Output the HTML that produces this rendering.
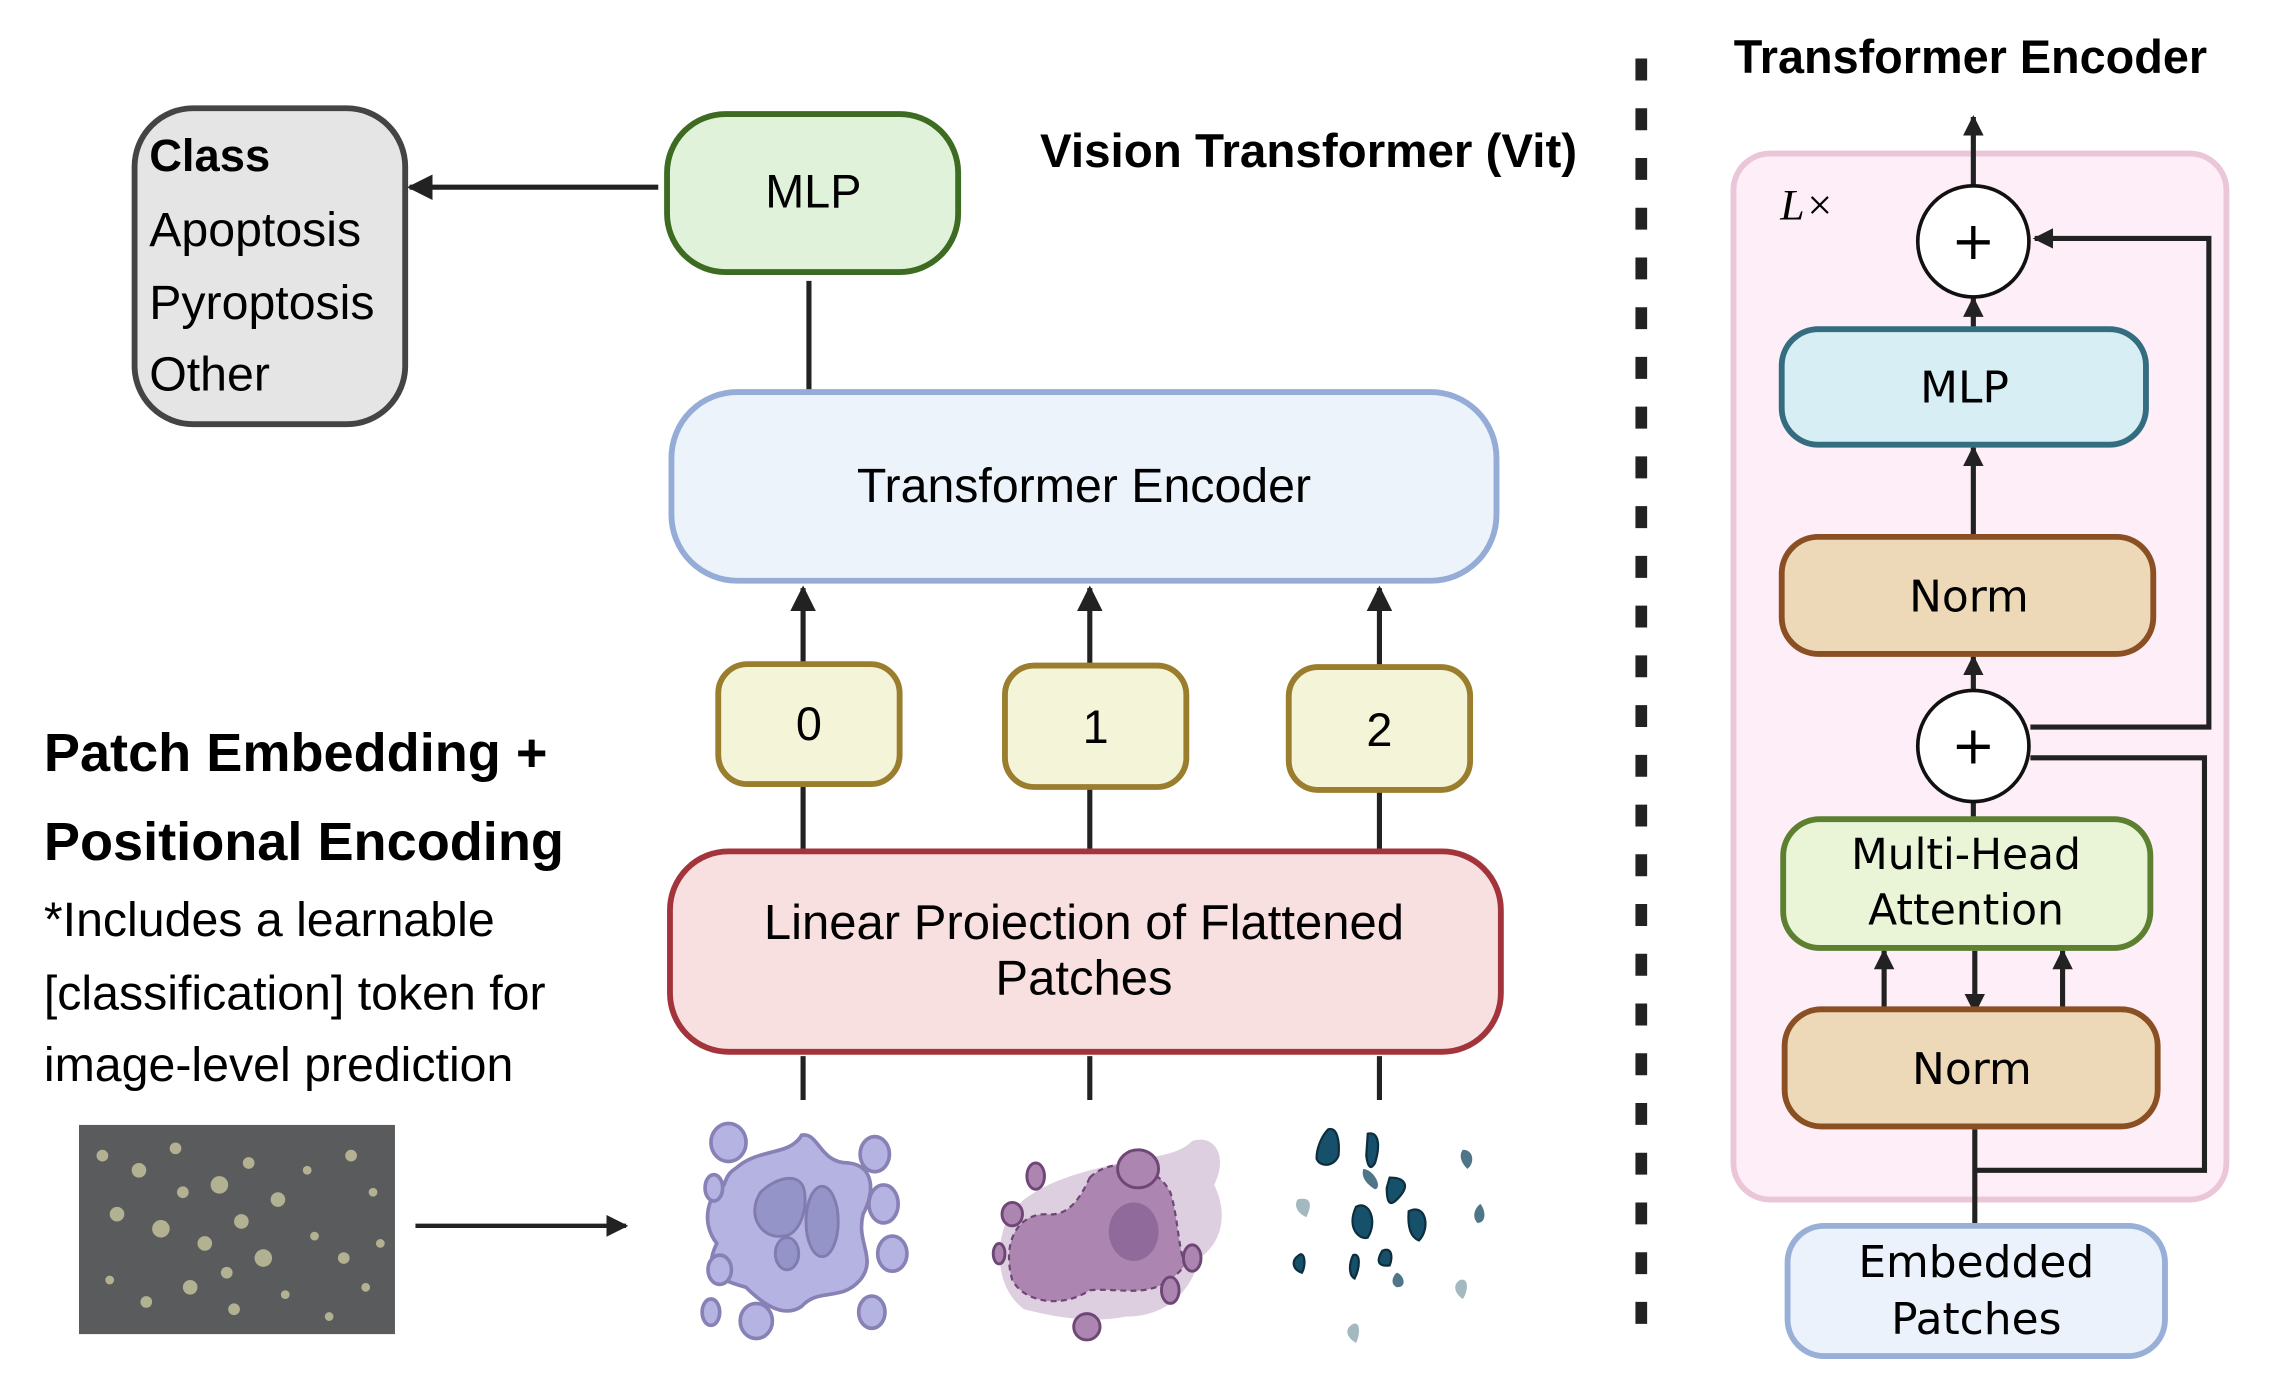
<!DOCTYPE html>
<html><head><meta charset="utf-8"><style>
html,body{margin:0;padding:0;background:#fff;}
svg{display:block;}
.s{font-family:"Liberation Sans",sans-serif;}
.d{font-family:"DejaVu Sans","Liberation Sans",sans-serif;}
</style></head><body>
<svg width="2282" height="1378" viewBox="0 0 1560 942" preserveAspectRatio="none" xmlns="http://www.w3.org/2000/svg">
<defs>
<marker id="ah" viewBox="0 0 10 10" refX="9" refY="5" markerWidth="5" markerHeight="5" orient="auto"><path d="M0,0 L10,5 L0,10 z" fill="#222"/></marker>
<marker id="ah2" viewBox="0 0 10 10" refX="9" refY="5" markerWidth="4" markerHeight="4" orient="auto"><path d="M0,0 L10,5 L0,10 z" fill="#222"/></marker>
</defs>
<rect width="1560" height="942" fill="#fff"/>

<!-- Class box -->
<rect x="92" y="74" width="185" height="216" rx="40" fill="#e5e5e5" stroke="#444" stroke-width="4"/>
<text class="s" x="102" y="117" font-size="31" font-weight="bold" fill="#000">Class</text>
<text class="s" x="102" y="168" font-size="33" fill="#000">Apoptosis</text>
<text class="s" x="102" y="218" font-size="33" fill="#000">Pyroptosis</text>
<text class="s" x="102" y="267" font-size="33" fill="#000">Other</text>
<line x1="450" y1="128" x2="280" y2="128" stroke="#222" stroke-width="3.5" marker-end="url(#ah)"/>

<!-- MLP -->
<rect x="456" y="78" width="199" height="108" rx="40" fill="#e0f3da" stroke="#3e6b22" stroke-width="4"/>
<text class="s" x="556" y="142" font-size="32" text-anchor="middle">MLP</text>
<line x1="553" y1="192" x2="553" y2="268" stroke="#222" stroke-width="3.5"/>
<text class="s" x="711" y="114" font-size="32.5" font-weight="bold">Vision Transformer (Vit)</text>

<!-- TE -->
<rect x="459" y="268" width="564" height="129" rx="45" fill="#ecf3fb" stroke="#95acd6" stroke-width="4"/>
<text class="s" x="741" y="343" font-size="33" text-anchor="middle">Transformer Encoder</text>

<g stroke="#222" stroke-width="3.5">
<line x1="549" y1="453" x2="549" y2="402" marker-end="url(#ah)"/>
<line x1="745" y1="454" x2="745" y2="402" marker-end="url(#ah)"/>
<line x1="943" y1="456" x2="943" y2="402" marker-end="url(#ah)"/>
<line x1="549" y1="536" x2="549" y2="582"/>
<line x1="745" y1="538" x2="745" y2="582"/>
<line x1="943" y1="540" x2="943" y2="582"/>
<line x1="549" y1="722" x2="549" y2="752"/>
<line x1="745" y1="722" x2="745" y2="752"/>
<line x1="943" y1="722" x2="943" y2="752"/>
</g>
<g fill="#f4f4d8" stroke="#9a7e2e" stroke-width="4">
<rect x="491" y="454" width="124" height="82" rx="20"/>
<rect x="687" y="455" width="124" height="83" rx="20"/>
<rect x="881" y="456" width="124" height="84" rx="20"/>
</g>
<text class="s" x="553" y="506" font-size="32" text-anchor="middle">0</text>
<text class="s" x="749" y="508" font-size="32" text-anchor="middle">1</text>
<text class="s" x="943" y="510" font-size="32" text-anchor="middle">2</text>

<rect x="458" y="582" width="568" height="137" rx="40" fill="#f8dfe0" stroke="#a3343c" stroke-width="4"/>
<text class="s" x="741" y="642" font-size="33.5" text-anchor="middle">Linear Proiection of Flattened</text>
<text class="s" x="741" y="680" font-size="33.5" text-anchor="middle">Patches</text>

<!-- left text -->
<text class="s" x="30" y="527" font-size="37" font-weight="bold">Patch Embedding +</text>
<text class="s" x="30" y="588" font-size="37" font-weight="bold">Positional Encoding</text>
<text class="s" x="30" y="640" font-size="33">*Includes a learnable</text>
<text class="s" x="30" y="690" font-size="33">[classification] token for</text>
<text class="s" x="30" y="739" font-size="33">image-level prediction</text>

<!-- microscopy -->
<rect x="54" y="769" width="216" height="143" fill="#5a5b5c"/>
<g fill="#c9c7a0" opacity="0.8">
<circle cx="70" cy="790" r="4"/><circle cx="95" cy="800" r="5"/><circle cx="120" cy="785" r="4"/><circle cx="150" cy="810" r="6"/><circle cx="170" cy="795" r="4"/><circle cx="190" cy="820" r="5"/><circle cx="210" cy="800" r="3"/><circle cx="240" cy="790" r="4"/><circle cx="255" cy="815" r="3"/><circle cx="80" cy="830" r="5"/><circle cx="110" cy="840" r="6"/><circle cx="140" cy="850" r="5"/><circle cx="165" cy="835" r="5"/><circle cx="180" cy="860" r="6"/><circle cx="215" cy="845" r="3"/><circle cx="235" cy="860" r="4"/><circle cx="250" cy="880" r="3"/><circle cx="75" cy="875" r="3"/><circle cx="100" cy="890" r="4"/><circle cx="130" cy="880" r="5"/><circle cx="160" cy="895" r="4"/><circle cx="195" cy="885" r="3"/><circle cx="225" cy="900" r="3"/><circle cx="260" cy="850" r="3"/><circle cx="125" cy="815" r="4"/><circle cx="155" cy="870" r="4"/>
</g>
<line x1="284" y1="838" x2="428" y2="838" stroke="#222" stroke-width="3" marker-end="url(#ah)"/>

<!-- purple cell -->
<g stroke="#8781b5" stroke-width="2.5" fill="#b4b3e2">
<path d="M505,797 C520,785 540,790 548,776 C560,774 560,795 580,795 C598,797 598,815 590,830 C585,850 600,860 588,875 C575,890 560,880 548,893 C535,902 520,890 510,880 C492,875 480,870 490,850 C478,835 485,815 495,810 C498,800 502,800 505,797 Z"/>
<ellipse cx="498" cy="781" rx="12" ry="13"/><ellipse cx="598" cy="789" rx="10" ry="12"/><ellipse cx="488" cy="812" rx="6" ry="9"/><ellipse cx="604" cy="823" rx="10" ry="13"/><ellipse cx="610" cy="857" rx="10" ry="12"/><ellipse cx="492" cy="868" rx="8" ry="10"/><ellipse cx="486" cy="897" rx="6" ry="9"/><ellipse cx="517" cy="903" rx="11" ry="12"/><ellipse cx="596" cy="897" rx="9" ry="11"/>
</g>
<g fill="#9594c8" stroke="#807cb0" stroke-width="2">
<path d="M520,815 C530,805 548,800 550,815 C552,830 545,845 535,845 C520,847 510,830 520,815 Z"/>
<ellipse cx="562" cy="835" rx="11" ry="24"/><ellipse cx="538" cy="857" rx="8" ry="11"/>
</g>

<!-- mauve cell -->
<path d="M700,820 C720,805 745,800 765,795 C790,790 805,790 815,780 C830,775 840,790 830,810 C840,830 835,850 820,860 C815,880 800,900 770,900 C745,905 720,900 700,895 C680,880 680,850 690,830 Z" fill="#ddcfe0"/>
<path d="M745,805 C760,790 790,795 800,815 C805,830 805,850 810,865 C790,890 770,880 745,882 C725,895 700,890 692,875 C685,850 695,830 715,830 C730,832 738,820 745,805 Z" fill="#ac86b0" stroke="#6e4777" stroke-width="1.5" stroke-dasharray="4 3"/>
<ellipse cx="775" cy="842" rx="17" ry="20" fill="#8f6a9b"/>
<ellipse cx="778" cy="799" rx="14" ry="13" fill="#ac86b0" stroke="#6e4777" stroke-width="2"/>
<g fill="#ac86b0" stroke="#6e4777" stroke-width="2">
<ellipse cx="708" cy="804" rx="6" ry="9"/><ellipse cx="692" cy="830" rx="7" ry="8"/><ellipse cx="683" cy="857" rx="4" ry="7"/><ellipse cx="815" cy="860" rx="6" ry="9"/><ellipse cx="800" cy="882" rx="6" ry="9"/><ellipse cx="743" cy="907" rx="9" ry="9"/>
</g>

<!-- teal fragments -->
<g fill="#16506b" stroke="#0c2e3d" stroke-width="1.5">
<path d="M908,772 C914,770 916,780 915,790 C912,798 902,798 900,792 C900,784 904,776 908,772 Z"/>
<path d="M935,775 C942,773 944,782 940,795 C937,800 935,798 934,790 Z"/>
<path d="M927,825 C936,820 942,835 935,846 C930,848 920,840 927,825 Z"/>
<path d="M963,828 C975,822 978,840 970,848 C965,846 962,840 963,828 Z"/>
<path d="M950,805 C960,805 965,810 955,820 C950,825 948,822 948,812 Z"/>
<path d="M945,855 C952,852 952,860 950,865 C943,866 940,863 945,855 Z"/>
<path d="M925,858 C930,856 930,866 926,874 C922,872 922,864 925,858 Z"/>
<path d="M888,858 C892,855 893,865 890,870 C884,868 882,862 888,858 Z"/>
</g>
<g fill="#4e7588"><path d="M1000,786 C1008,786 1008,796 1003,799 C999,795 997,790 1000,786 Z"/><path d="M932,799 C940,800 945,812 940,813 C935,810 930,805 932,799 Z"/><path d="M1012,823 C1016,828 1016,836 1010,836 C1006,832 1008,826 1012,823 Z"/><path d="M955,870 C960,872 962,880 955,880 C950,878 952,872 955,870 Z"/></g>
<g fill="#a4b8c0"><path d="M887,820 C895,818 898,822 893,832 C888,830 884,825 887,820 Z"/><path d="M998,875 C1004,873 1004,882 1000,888 C994,884 993,878 998,875 Z"/><path d="M925,905 C930,903 930,912 927,918 C920,914 919,908 925,905 Z"/></g>

<!-- divider -->
<line x1="1122" y1="40" x2="1122" y2="914" stroke="#222" stroke-width="8" stroke-dasharray="15 19"/>

<!-- right panel -->
<text class="s" x="1347" y="50" font-size="32" font-weight="bold" text-anchor="middle">Transformer Encoder</text>
<rect x="1185" y="105" width="337" height="715" rx="25" fill="#fdeef7" stroke="#ebc5d8" stroke-width="4"/>
<text x="1217" y="150" font-size="30" font-style="italic" font-family="'Liberation Serif',serif">L×</text>

<g stroke="#222" stroke-width="3.5" fill="none">
<line x1="1349" y1="128" x2="1349" y2="80" marker-end="url(#ah2)"/>
<line x1="1349" y1="225" x2="1349" y2="204" marker-end="url(#ah2)"/>
<line x1="1349" y1="367" x2="1349" y2="306" marker-end="url(#ah2)"/>
<line x1="1349" y1="472" x2="1349" y2="449" marker-end="url(#ah2)"/>
<line x1="1349" y1="548" x2="1349" y2="560"/>
<polyline points="1388,497 1510,497 1510,163 1391,163" marker-end="url(#ah2)"/>
<polyline points="1388,518 1507,518 1507,800 1350,800"/>
<line x1="1350" y1="840" x2="1350" y2="772"/>
<line x1="1288" y1="690" x2="1288" y2="650" marker-end="url(#ah2)"/>
<line x1="1350" y1="650" x2="1350" y2="692" marker-end="url(#ah2)"/>
<line x1="1410" y1="690" x2="1410" y2="650" marker-end="url(#ah2)"/>
</g>
<circle cx="1349" cy="165" r="38" fill="#fff" stroke="#111" stroke-width="2.5"/>
<text class="d" x="1349" y="177" font-size="36" text-anchor="middle">+</text>
<circle cx="1349" cy="510" r="38" fill="#fff" stroke="#111" stroke-width="2.5"/>
<text class="d" x="1349" y="522" font-size="36" text-anchor="middle">+</text>

<rect x="1218" y="225" width="249" height="79" rx="25" fill="#d8eef5" stroke="#346d80" stroke-width="4"/>
<text class="d" x="1343" y="275" font-size="30" text-anchor="middle">MLP</text>
<rect x="1218" y="367" width="254" height="80" rx="25" fill="#edd8b8" stroke="#8a4f22" stroke-width="4"/>
<text class="d" x="1346" y="418" font-size="30" text-anchor="middle">Norm</text>
<rect x="1219" y="560" width="251" height="88" rx="25" fill="#eaf5d8" stroke="#5c8030" stroke-width="4"/>
<text class="d" x="1344" y="594" font-size="29" text-anchor="middle">Multi-Head</text>
<text class="d" x="1344" y="632" font-size="29" text-anchor="middle">Attention</text>
<rect x="1220" y="690" width="255" height="80" rx="25" fill="#edd8b8" stroke="#8a4f22" stroke-width="4"/>
<text class="d" x="1348" y="741" font-size="30" text-anchor="middle">Norm</text>
<rect x="1222" y="838" width="258" height="89" rx="25" fill="#ebf2fb" stroke="#98afd8" stroke-width="4"/>
<text class="d" x="1351" y="873" font-size="30" text-anchor="middle">Embedded</text>
<text class="d" x="1351" y="912" font-size="30" text-anchor="middle">Patches</text>
</svg>
</body></html>
